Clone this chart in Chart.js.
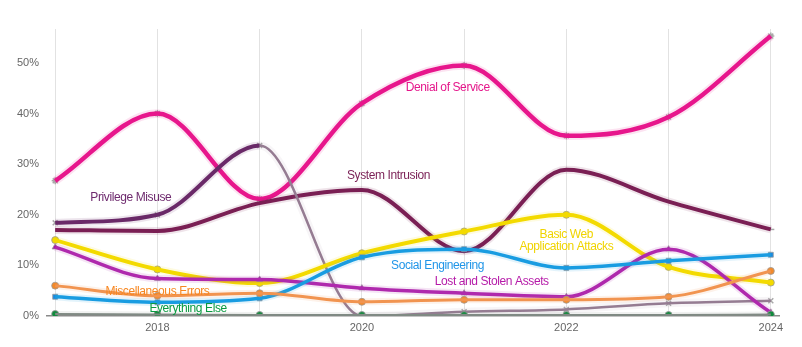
<!DOCTYPE html>
<html>
<head>
<meta charset="utf-8">
<script src="https://cdn.jsdelivr.net/npm/chart.js@4.4.1/dist/chart.umd.min.js"></script>
<style>
    html, body { margin: 0; padding: 0; background: #fff; }
    #wrap { width: 802px; height: 347px; position: relative; }
</style>
</head>
<body>
<div id="wrap"><canvas id="patternsChart"></canvas></div>
<script>
// Datos (porcentaje de brechas por patrón y año)
const years = [2017, 2018, 2019, 2020, 2021, 2022, 2023, 2024];
const yTicks = [0, 10, 20, 30, 40, 50];

const denialOfService   = [26.7, 40.0, 23.1, 42.0, 49.5, 35.6, 39.3, 55.3];
const privilegeMisuse   = [18.4, 20.0, 33.7, 0.0, 0.85, 1.3, 2.5, 3.0];
const systemIntrusion   = [17.0, 16.8, 22.3, 24.9, 12.8, 28.9, 22.6, 17.1];
const basicWebAttacks   = [15.0, 9.2, 6.5, 12.4, 16.7, 20.0, 9.7, 6.6];
const socialEngineering = [3.8, 2.7, 3.5, 11.6, 13.2, 9.5, 10.9, 12.1];
const lostStolenAssets  = [13.6, 7.4, 7.2, 5.5, 4.5, 3.8, 13.2, 0.7];
const miscErrors        = [6.0, 4.0, 4.5, 2.8, 3.2, 3.2, 3.8, 8.9];
const everythingElse    = [0.4, 0.3, 0.2, 0.2, 0.2, 0.2, 0.2, 0.3];

// Series: nombre, datos, color, marcador
const series = [
    { name: 'Everything Else', data: everythingElse, color: '#808a84', fill: '#0f8a3c', marker: 'circle', width: 2 },
    { name: 'Miscellaneous Errors', data: miscErrors, color: '#f29450', fill: '#f28a2a', marker: 'circle', width: 3 },
    { name: 'Social Engineering', data: socialEngineering, color: '#1a9de2', fill: '#1a8ae0', marker: 'rect', width: 3.5 },
    { name: 'Lost and Stolen Assets', data: lostStolenAssets, color: '#b02aae', fill: '#a417a8', marker: 'triangle', width: 3.5 },
    { name: 'Basic Web Application Attacks', data: basicWebAttacks, color: '#f3da00', fill: '#f3da00', marker: 'triangleDown', width: 4 },
    { name: 'Privilege Misuse', data: privilegeMisuse, color: '#6a2a68', fill: '#999', marker: 'crossRot', width: 4, fadeFrom: 2 },
    { name: 'System Intrusion', data: systemIntrusion, color: '#7a1f55', fill: '#999', marker: 'dash', width: 4 },
    { name: 'Denial of Service', data: denialOfService, color: '#e8168c', fill: '#999', marker: 'star', width: 4.5 }
];

// Etiquetas dentro del gráfico (año, valor)
const seriesLabels = [
    { lines: ['Denial of Service'], x: 2020.84, y: 45.2, color: '#e5178b' },
    { lines: ['Privilege Misuse'], x: 2017.74, y: 23.3, color: '#6e2a6e' },
    { lines: ['System Intrusion'], x: 2020.26, y: 27.7, color: '#7a1f55' },
    { lines: ['Basic Web', 'Application Attacks'], x: 2022.0, y: 14.8, color: '#f0d400' },
    { lines: ['Social Engineering'], x: 2020.74, y: 9.9, color: '#2196e8' },
    { lines: ['Lost and Stolen Assets'], x: 2021.27, y: 6.7, color: '#b51aa8' },
    { lines: ['Miscellaneous Errors'], x: 2018.0, y: 4.8, color: '#f7861f' },
    { lines: ['Everything Else'], x: 2018.3, y: 1.4, color: '#0a9a40' }
];

function hexAlpha(hex, a) {
    const n = parseInt(hex.slice(1), 16);
    return `rgba(${(n >> 16) & 255}, ${(n >> 8) & 255}, ${n & 255}, ${a})`;
}

const datasets = [];
series.forEach(s => {
    const pts = years.map((yr, i) => ({ x: yr, y: s.data[i] }));
    const faded = ctx => s.fadeFrom !== undefined && ctx.p0DataIndex >= s.fadeFrom;
    const common = { data: pts, cubicInterpolationMode: 'monotone' };
    // halo suave
    datasets.push({
        ...common, label: s.name + ' halo', borderColor: hexAlpha(s.color, 0.12),
        borderWidth: s.width + 4, pointRadius: 0,
        segment: { borderColor: ctx => faded(ctx) ? 'rgba(150,130,150,0.08)' : undefined }
    });
    // línea de color
    datasets.push({
        ...common, label: s.name, borderColor: s.color, borderWidth: s.width, pointRadius: 0,
        segment: {
            borderColor: ctx => faded(ctx) ? '#957c92' : undefined,
            borderWidth: ctx => faded(ctx) ? 2.5 : undefined
        }
    });
    // línea central gris con marcadores
    datasets.push({
        ...common, label: s.name + ' core', borderColor: 'rgba(175,175,175,0.9)',
        borderWidth: 1.2,
        pointStyle: s.marker, pointRadius: 3.5,
        pointBackgroundColor: s.fill, pointBorderColor: s.fill === '#999' ? '#a8a8a8' : '#999',
        pointBorderWidth: s.fill === '#999' ? 1.5 : 0.8,
        segment: { borderColor: ctx => faded(ctx) ? 'rgba(200,190,200,0.7)' : undefined }
    });
});

const labelPlugin = {
    id: 'seriesLabels',
    afterDatasetsDraw(chart) {
        const { ctx, scales: { x, y } } = chart;
        ctx.save();
        ctx.font = '12px "Liberation Sans", Arial, sans-serif';
        ctx.letterSpacing = '-0.4px';
        ctx.textAlign = 'center';
        ctx.textBaseline = 'middle';
        seriesLabels.forEach(l => {
            ctx.fillStyle = l.color;
            const cx = x.getPixelForValue(l.x);
            const cy = y.getPixelForValue(l.y);
            const lh = 12;
            const top = cy - (l.lines.length - 1) * lh / 2;
            l.lines.forEach((t, i) => ctx.fillText(t, cx, top + i * lh));
        });
        ctx.restore();
    }
};

new Chart(document.getElementById('patternsChart').getContext('2d'), {
    type: 'line',
    data: { datasets },
    options: {
        responsive: true,
        maintainAspectRatio: false,
        animation: false,
        layout: { padding: { top: 29, right: 23, left: 0, bottom: 0 } },
        plugins: {
            legend: { display: false },
            tooltip: { enabled: false }
        },
        scales: {
            x: {
                type: 'linear',
                min: 2016.92,
                max: 2024.08,
                afterBuildTicks: scale => {
                    scale.ticks = years.map(v => ({ value: v }));
                },
                afterFit: scale => { scale.height = 31; },
                grid: { color: '#e2e2e2', lineWidth: 1, drawTicks: false },
                border: { display: true, color: '#8a8a8a', width: 1.5 },
                ticks: {
                    padding: 5,
                    color: '#666',
                    font: { size: 11, family: '"Liberation Sans", Arial, sans-serif' },
                    callback: v => (v % 2 === 0 ? String(v) : '')
                }
            },
            y: {
                min: 0,
                max: 56.7,
                afterBuildTicks: scale => {
                    scale.ticks = yTicks.map(v => ({ value: v }));
                },
                afterFit: scale => { scale.width = 47; },
                grid: { display: false, drawTicks: false },
                border: { display: false },
                ticks: {
                    padding: 8,
                    color: '#666',
                    font: { size: 11, family: '"Liberation Sans", Arial, sans-serif' },
                    callback: v => v + '%'
                }
            }
        }
    },
    plugins: [labelPlugin]
});
</script>
</body>
</html>
